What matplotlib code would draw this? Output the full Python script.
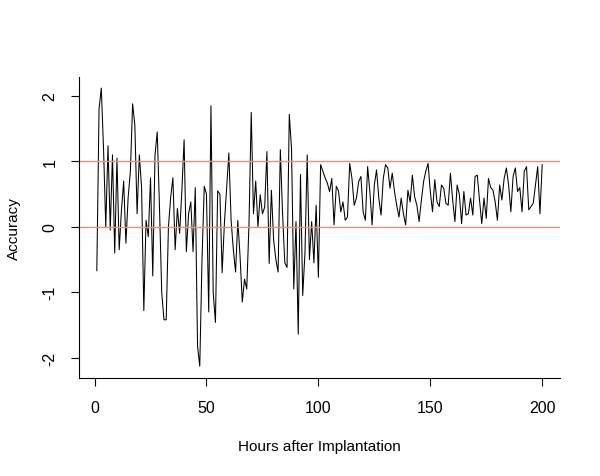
import numpy as np
import matplotlib
matplotlib.use("Agg")
import matplotlib.pyplot as plt

plt.rcParams['font.family'] = ['Liberation Sans', 'DejaVu Sans']

# accuracy per hour (hours 1..200)
acc_first = [
    -0.67, 1.80, 2.12, 1.20, 0.00, 1.24, -0.05, 1.10, -0.40, 1.05,
    -0.35, 0.25, 0.70, -0.25, 0.45, 0.85, 1.88, 1.55, 0.20, 1.10,
    0.60, -1.28, 0.10, -0.15, 0.75, -0.75, 1.10, 1.45, 0.30, -1.00,
    -1.42, -1.42, 0.00, 0.45, 0.75, -0.35, 0.28, -0.10, 0.55, 1.33,
    -0.38, 0.20, 0.38, -0.38, 0.60, -1.82, -2.13, -0.50, 0.62, 0.50,
    -1.30, 1.85, -1.00, -1.46, 0.55, 0.50, -0.70, 0.05, 0.60, 1.13,
    0.10, -0.35, -0.69, 0.10, -0.45, -1.15, -0.80, -0.95, 0.05, 1.75,
    0.20, 0.70, 0.00, 0.49, 0.20, 0.30, 1.15, -0.56, 0.56, -0.20,
    -0.50, -0.69, 1.18, 0.20, -0.55, -0.62, 1.72, 1.20, -0.95, 0.08,
    -1.64, 0.80, -1.05, -0.40, 1.10, -0.50, 0.08, -0.55, 0.33, -0.77,
]
acc_second = [
    0.95, 0.85, 0.75, 0.67, 0.54, 0.74, 0.03, 0.62, 0.55, 0.23,
    0.38, 0.10, 0.15, 0.97, 0.74, 0.33, 0.44, 0.69, 0.77, 0.23,
    0.10, 0.92, 0.54, 0.03, 0.64, 0.87, 0.44, 0.18, 0.74, 0.95,
    0.90, 0.59, 0.82, 0.54, 0.33, 0.15, 0.44, 0.20, 0.03, 0.56,
    0.38, 0.79, 0.46, 0.33, 0.08, 0.40, 0.69, 0.85, 0.97, 0.54,
    0.23, 0.72, 0.38, 0.31, 0.64, 0.59, 0.36, 0.33, 0.82, 0.41,
    0.08, 0.64, 0.49, 0.05, 0.54, 0.18, 0.20, 0.44, 0.18, 0.77,
    0.79, 0.41, 0.05, 0.44, 0.13, 0.74, 0.60, 0.56, 0.38, 0.10,
    0.64, 0.41, 0.74, 0.90, 0.64, 0.23, 0.77, 0.90, 0.54, 0.60,
    0.23, 0.85, 0.92, 0.26, 0.31, 0.36, 0.64, 0.92, 0.20, 0.95,
]
accuracy = acc_first + acc_second
hours = list(range(1, len(accuracy) + 1))
ref_levels = [0, 1]
x_ticks = [0, 50, 100, 150, 200]
y_ticks = [-2, -1, 0, 1, 2]

fig = plt.figure(figsize=(6.0, 4.77), dpi=100)
ax = fig.add_axes([79/600, 1 - 379/477, 481/600, 301/477])

ax.plot(hours, accuracy, color="black", linewidth=0.75)
for lvl in ref_levels:
    ax.axhline(lvl, color="#e8907e", linewidth=1.0)

ax.set_xlim(1 - 0.04*199, 200 + 0.04*199)
ax.set_ylim(-2.31, 2.29)
ax.set_xticks(x_ticks)
ax.set_yticks(y_ticks)
ax.set_yticklabels([str(v) for v in y_ticks], rotation=90, va="center")
ax.tick_params(direction="out", length=5.5, width=0.8, labelsize=11.5, pad=10)

ax.spines["top"].set_visible(False)
ax.spines["right"].set_visible(False)
for s in ("left", "bottom"):
    ax.spines[s].set_linewidth(0.8)

ax.set_xlabel("Hours after Implantation", fontsize=11, va="center")
ax.set_ylabel("Accuracy", fontsize=11, va="center")
ax.xaxis.set_label_coords(0.5, -(447 - 379) / 301)
ax.yaxis.set_label_coords(-(79 - 14) / 481, 0.5)

fig.savefig("out.png", dpi=100)
